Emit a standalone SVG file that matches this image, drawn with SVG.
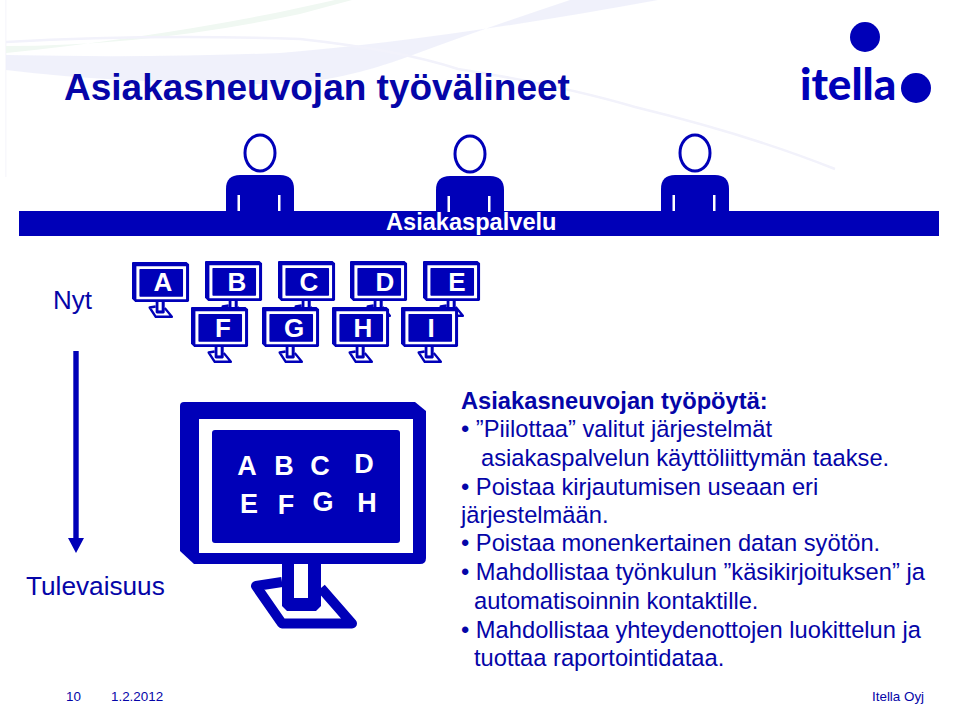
<svg xmlns="http://www.w3.org/2000/svg" width="960" height="707" viewBox="0 0 960 707">
<style>
text{font-family:"Liberation Sans",Arial,sans-serif;fill:#0505a8}
.w{fill:#fff;font-weight:700}
.t{font-size:23.6px}
.b{fill:#0000b8}
.m{font-size:26px;text-anchor:middle}
.l{font-size:27px;text-anchor:middle}
</style>
<defs>
<g id="mon">
<path class="b" d="M4 0H235L246 9V156Q246 162 240 162H14L0 149V4Q0 0 4 0Z"/>
<path fill="#fff" d="M19 17H233V151H19Z"/>
<path class="b" d="M35 28H217Q220 28 220 31V138Q220 141 217 141H35Q32 141 32 138V31Q32 28 35 28Z"/>
<path fill="none" stroke="#0000b8" stroke-width="10" stroke-linejoin="round" d="M102 180L76 184L102 221.500H172L141 186"/>
<path class="b" d="M102 162H141V204L136 209H107L102 204Z"/>
<path fill="#fff" d="M114 162H128V196H114Z"/>
</g>
<g id="p">
<ellipse cx="16" cy="-41" rx="15" ry="18" fill="#fff" stroke="#0000b8" stroke-width="3"/>
<path class="b" d="M-18 37V-5Q-18 -19 -4 -19H36Q50 -19 50 -5V37Z"/>
<path fill="#fff" d="M-6.500 1H-4V17H-6.500ZM34 1H36.500V17H34Z"/>
</g>
</defs>
<rect width="960" height="707" fill="#fff"/>
<g id="background">
<path fill="#f8f8fc" d="M5 0H6.500V177H5Z"/>
<path fill="#ecedfa" d="M6 55Q150 58 280 53Q440 40 658 0H570Q480 30 410 56Q340 82 280 84Q120 84 6 70Z" opacity=".8"/>
<path fill="#f0f8f2" d="M6 46Q150 46 300 14L352 0H335L280 12Q150 38 6 53Z"/>
<path fill="none" stroke="#f2f2fb" stroke-width="2.500" d="M6 42Q150 34 300 39Q400 50 458 69Q560 85 635 107Q750 135 835 169"/>
</g>
<text id="title" x="64" y="100" font-size="37" font-weight="700">Asiakasneuvojan työvälineet</text>
<g id="logo">
<circle class="b" cx="865" cy="37" r="15"/>
<circle class="b" cx="916" cy="88" r="15"/>
<text x="800" y="100" font-size="44" font-weight="900" style="font-family:Lato,'Liberation Sans',sans-serif;fill:#0000b8">itella</text>
</g>
<g id="bar"><rect class="b" x="19" y="211" width="920" height="25"/></g>
<g id="person1"><use href="#p" transform="translate(244 194)"/></g>
<g id="person2"><use href="#p" transform="translate(454 195)"/></g>
<g id="person3"><use href="#p" transform="translate(679 194)"/></g>
<text class="w t" x="386" y="230">Asiakaspalvelu</text>
<text id="nyt" x="53" y="309" font-size="26">Nyt</text>
<g id="monitors-top">
<g id="mA"><use href="#mon" transform="translate(132 262) scale(.232 .247)"/><text class="w m" x="163" y="291">A</text></g>
<g id="mB"><use href="#mon" transform="translate(205 261) scale(.232 .247)"/><text class="w m" x="237" y="291">B</text></g>
<g id="mC"><use href="#mon" transform="translate(278 261) scale(.232 .247)"/><text class="w m" x="309" y="291">C</text></g>
<g id="mD"><use href="#mon" transform="translate(350 261) scale(.232 .247)"/><text class="w m" x="385" y="291">D</text></g>
<g id="mE"><use href="#mon" transform="translate(423 261) scale(.232 .247)"/><text class="w m" x="457" y="291">E</text></g>
</g>
<g id="monitors-bottom">
<g id="mF"><use href="#mon" transform="translate(191 307) scale(.232 .247)"/><text class="w m" x="223" y="337">F</text></g>
<g id="mG"><use href="#mon" transform="translate(262 307) scale(.232 .247)"/><text class="w m" x="294" y="337">G</text></g>
<g id="mH"><use href="#mon" transform="translate(332 307) scale(.232 .247)"/><text class="w m" x="363" y="337">H</text></g>
<g id="mI"><use href="#mon" transform="translate(401 307) scale(.232 .247)"/><text class="w m" x="431" y="337">I</text></g>
</g>
<g id="connectors">
<rect class="b" x="73.300" y="351" width="5.400" height="188"/>
<path class="b" d="M68 538H84L76 553Z"/>
</g>
<text id="tulevaisuus" x="26" y="595" font-size="26.200">Tulevaisuus</text>
<g id="mBig">
<use href="#mon" transform="translate(180 402)"/>
<text class="w l" x="247" y="475">A</text>
<text class="w l" x="284" y="475">B</text>
<text class="w l" x="320" y="475">C</text>
<text class="w l" x="364" y="473">D</text>
<text class="w l" x="249" y="513">E</text>
<text class="w l" x="286" y="514">F</text>
<text class="w l" x="323" y="511">G</text>
<text class="w l" x="367" y="512">H</text>
</g>
<g id="body" font-size="23.700">
<text x="461" y="409" font-weight="700">Asiakasneuvojan työpöytä:</text>
<text x="461" y="437">• ”Piilottaa” valitut järjestelmät</text>
<text x="481" y="466">asiakaspalvelun käyttöliittymän taakse.</text>
<text x="461" y="495">• Poistaa kirjautumisen useaan eri</text>
<text x="461" y="523">järjestelmään.</text>
<text x="461" y="551">• Poistaa monenkertainen datan syötön.</text>
<text x="461" y="580">• Mahdollistaa työnkulun ”käsikirjoituksen” ja</text>
<text x="474" y="609">automatisoinnin kontaktille.</text>
<text x="461" y="638">• Mahdollistaa yhteydenottojen luokittelun ja</text>
<text x="474" y="666">tuottaa raportointidataa.</text>
</g>
<g id="footer" font-size="13.400">
<text x="66" y="701">10</text>
<text x="111" y="701">1.2.2012</text>
<text x="872" y="701">Itella Oyj</text>
</g>
</svg>
